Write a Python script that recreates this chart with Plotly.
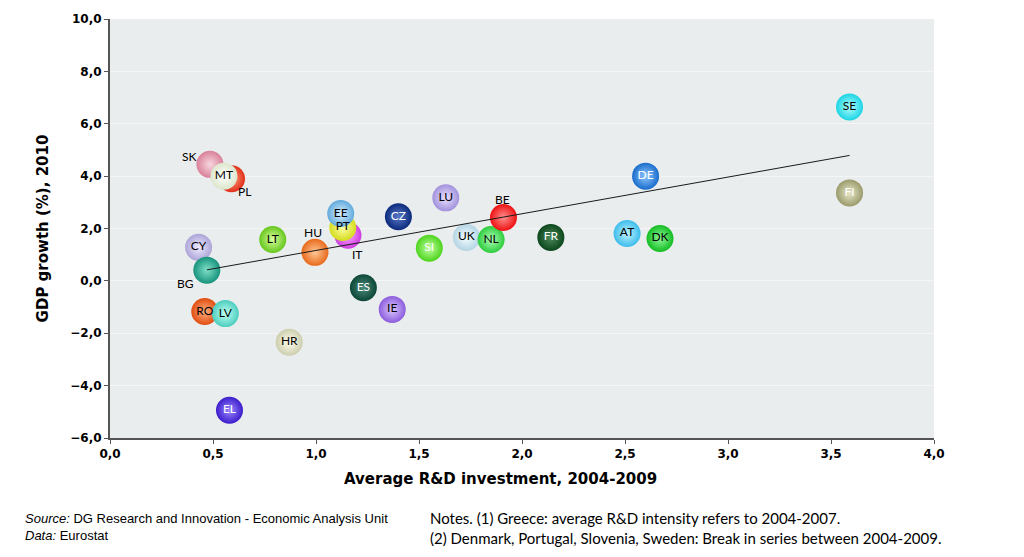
import plotly.graph_objects as go

# ---- data (drawing order: back to front) ----
countries = ["SK", "PL", "MT", "CY", "BG", "LT", "HU", "IT", "PT", "EE", "CZ", "LU", "SI",
             "UK", "NL", "BE", "FR", "AT", "DK", "DE", "SE", "FI", "ES", "IE", "RO", "LV",
             "HR", "EL"]
rd_invest = [0.485, 0.59, 0.553, 0.43, 0.47, 0.79, 0.995, 1.155, 1.13, 1.12, 1.40, 1.63, 1.55,
             1.73, 1.85, 1.91, 2.14, 2.51, 2.67, 2.60, 3.59, 3.59, 1.23, 1.37, 0.46, 0.56,
             0.87, 0.58]
gdp_growth = [4.45, 3.9, 4.0, 1.28, 0.41, 1.58, 1.09, 1.74, 2.04, 2.57, 2.45, 3.17, 1.25,
              1.66, 1.58, 2.42, 1.66, 1.81, 1.62, 4.0, 6.64, 3.36, -0.26, -1.09, -1.17, -1.25,
              -2.34, -4.94]
ball_colors = ["#d9809a", "#e0301a", "#dce6cc", "#ada5d8", "#17937c", "#66c61c", "#e86a1c",
               "#cc3ce0", "#d4dc1c", "#62aadc", "#0c2a7c", "#a292dc", "#4cd41c",
               "#b4d4e4", "#2ccc3c", "#ee1010", "#0c461c", "#3cbcec", "#12bc22", "#1a6ccc",
               "#1cd4e4", "#9a9a6c", "#0c4636", "#8c5cdc", "#e04c10", "#4ccebe",
               "#cdcdae", "#3c1ccc"]
highlight_colors = ["#f8d8e0", "#ffa080", "#ffffff", "#eeeaff", "#80e0c8", "#d8ffa0", "#ffc898",
                    "#ffa8ff", "#ffffa8", "#d8f0ff", "#5878c8", "#e8e0ff", "#c0ffa0",
                    "#f4ffff", "#b0ffb8", "#ff9090", "#4c8a5c", "#c0f4ff", "#90f898", "#90c8ff",
                    "#b0ffff", "#e8e8c8", "#4c8a7a", "#dcc8ff", "#ffb080", "#c0fff4",
                    "#ffffee", "#9c88ff"]
inside_label = [False, False, True, True, False, True, False, False, True, True, True, True, True,
                True, True, False, True, True, True, True, True, True, True, True, True, True,
                True, True]
label_colors = ["#000", "#000", "#000", "#000", "#000", "#000", "#000", "#000", "#000", "#000",
                "#fff", "#000", "#fff", "#000", "#000", "#000", "#fff", "#000", "#000", "#fff",
                "#000", "#fff", "#fff", "#000", "#000", "#000", "#000", "#fff"]
# pixel offsets of labels drawn beside their ball
outside_shift = {"SK": (-20, 8), "PL": (13, -13), "BG": (-21, -13),
                 "HU": (-2, 20), "IT": (9, -19), "BE": (-1, 18)}

trend_x = [0.47, 3.59]
trend_y = [0.42, 4.79]

x_ticks = [0.0, 0.5, 1.0, 1.5, 2.0, 2.5, 3.0, 3.5, 4.0]
y_ticks = [-6, -4, -2, 0, 2, 4, 6, 8, 10]

fig = go.Figure()

# balls
fig.add_trace(go.Scatter(
    x=rd_invest, y=gdp_growth, mode="markers",
    marker=dict(size=27, color=ball_colors,
                gradient=dict(type="radial", color=highlight_colors),
                line=dict(width=0)),
    hoverinfo="skip", showlegend=False))

# inside labels
ix = [x for x, f in zip(rd_invest, inside_label) if f]
iy = [y for y, f in zip(gdp_growth, inside_label) if f]
it = [c for c, f in zip(countries, inside_label) if f]
ic = [c for c, f in zip(label_colors, inside_label) if f]
fig.add_trace(go.Scatter(
    x=ix, y=iy, mode="text", text=it, textposition="middle center",
    textfont=dict(family="Lato, sans-serif", size=12, color=ic),
    hoverinfo="skip", showlegend=False))

# outside labels
for c, x, y, f in zip(countries, rd_invest, gdp_growth, inside_label):
    if not f:
        dx, dy = outside_shift[c]
        fig.add_annotation(x=x, y=y, text=c, showarrow=False, xshift=dx, yshift=dy,
                           font=dict(family="Lato, sans-serif", size=12, color="#000"))

# trend line
fig.add_trace(go.Scatter(
    x=trend_x, y=trend_y, mode="lines",
    line=dict(color="#1a1a1a", width=1),
    hoverinfo="skip", showlegend=False))

fig.update_layout(
    width=1024, height=557,
    margin=dict(l=110, r=90, t=14, b=119),
    paper_bgcolor="white", plot_bgcolor="#eaeded",
    separators=", ",
    font=dict(family="DejaVu Sans, sans-serif", color="#000"),
)
fig.update_xaxes(
    range=[0, 4], tickvals=x_ticks, tickformat=".1f",
    showgrid=False, zeroline=False,
    showline=True, linecolor="#555", linewidth=2,
    ticks="outside", ticklen=4, tickcolor="#555",
    tickfont=dict(size=12, family="DejaVu Sans, sans-serif", weight="bold"),
)
fig.update_yaxes(
    range=[-6, 10], tickvals=y_ticks, tickformat=".1f",
    showgrid=True, gridcolor="#f4f6f6", gridwidth=1, zeroline=False,
    showline=True, linecolor="#555", linewidth=2,
    ticks="outside", ticklen=4, tickcolor="#555",
    tickfont=dict(size=12, family="DejaVu Sans, sans-serif", weight="bold"),
    title=dict(text="<b>GDP growth (%), 2010</b>",
               font=dict(size=15, family="DejaVu Sans, sans-serif"), standoff=18),
)

# x axis title (offset left of plot centre, as in the original)
fig.add_annotation(xref="paper", yref="paper", x=0.4745, y=-0.097, xanchor="center", yanchor="middle",
                   text="<b>Average R&D investment, 2004-2009</b>", showarrow=False,
                   font=dict(size=15, family="DejaVu Sans, sans-serif", color="#000"))

# footer notes
fig.add_annotation(xref="paper", yref="paper", x=-0.105, y=-0.17, xanchor="left", yanchor="top",
                   text="<i>Source:</i> DG Research and Innovation - Economic Analysis Unit<br><i>Data:</i> Eurostat",
                   showarrow=False, align="left",
                   font=dict(family="Liberation Sans Narrow, Arial Narrow, sans-serif", size=13, color="#000"))
fig.add_annotation(xref="paper", yref="paper", x=0.386, y=-0.165, xanchor="left", yanchor="top",
                   text="Notes. (1) Greece: average R&D intensity refers to 2004-2007.<br>(2) Denmark, Portugal, Slovenia, Sweden: Break in series between 2004-2009.",
                   showarrow=False, align="left",
                   font=dict(family="Lato, sans-serif", size=15, color="#000"))

fig.write_html("out.html")
